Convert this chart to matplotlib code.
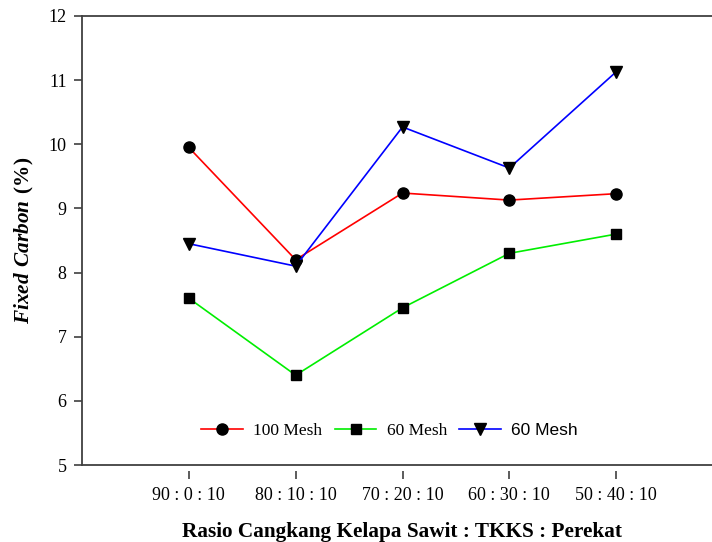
import matplotlib
matplotlib.use("Agg")
import matplotlib.pyplot as plt

plt.rcParams['font.family'] = 'Liberation Serif'
plt.rcParams['mathtext.fontset'] = 'custom'
plt.rcParams['mathtext.rm'] = 'Liberation Serif:bold'
plt.rcParams['mathtext.bfit'] = 'Liberation Serif:bold:italic'

# data
ratios = ["90 : 0 : 10", "80 : 10 : 10", "70 : 20 : 10", "60 : 30 : 10", "50 : 40 : 10"]
mesh100 = [9.95, 8.20, 9.24, 9.13, 9.23]
mesh60 = [7.60, 6.40, 7.45, 8.30, 8.60]
mesh60b = [8.45, 8.10, 10.27, 9.63, 11.13]
labels = ["100 Mesh", "60 Mesh", "60 Mesh"]

x = list(range(1, len(ratios) + 1))

fig = plt.figure(figsize=(7.12, 5.42), dpi=100)
ax = fig.add_axes([82/712, 1 - 465/542, 641/712, 449/542])

spine_c = '#404040'
ax.plot(x, mesh100, color='#ff0000', lw=1.2, marker='o', ms=8, mfc='black', mec='black', label=labels[0])
ax.plot(x, mesh60, color='#00ee00', lw=1.2, marker='s', ms=7, mfc='black', mec='black', label=labels[1])
ax.plot(x, mesh60b, color='#0000ff', lw=1.2, marker='v', ms=8, mfc='black', mec='black', label=labels[2])

ax.set_xlim(0, 6)
ax.set_ylim(5, 12)
ax.set_yticks(range(5, 13))
ax.set_xticks(x)
ax.set_xticklabels(ratios)

for s in ['left', 'top', 'right']:
    ax.spines[s].set_color(spine_c)
    ax.spines[s].set_linewidth(1.3)
ax.spines['bottom'].set_position(('outward', 4))
ax.spines['bottom'].set_visible(False)
ax.axhline(5, color=spine_c, lw=1.3, clip_on=False)

ax.tick_params(axis='y', direction='out', length=6, width=1.2, color=spine_c, labelsize=13, pad=5)
ax.tick_params(axis='x', direction='out', length=6, width=1.2, color=spine_c, labelsize=13, pad=6)

ax.set_xlabel("Rasio Cangkang Kelapa Sawit : TKKS : Perekat", fontsize=15.3, fontweight='bold', labelpad=13)
ax.set_ylabel(r'$\mathbfit{Fixed\ Carbon}\ \mathrm{(\%)}$', fontsize=15.3, labelpad=9)

leg = ax.legend(loc='center', bbox_to_anchor=(0.48, 0.076), ncol=3, frameon=False,
                fontsize=12.5, handlelength=2.4, handletextpad=0.6, columnspacing=0.7)
leg.get_texts()[2].set_family('Liberation Sans')

fig.savefig("out.png", dpi=100)
